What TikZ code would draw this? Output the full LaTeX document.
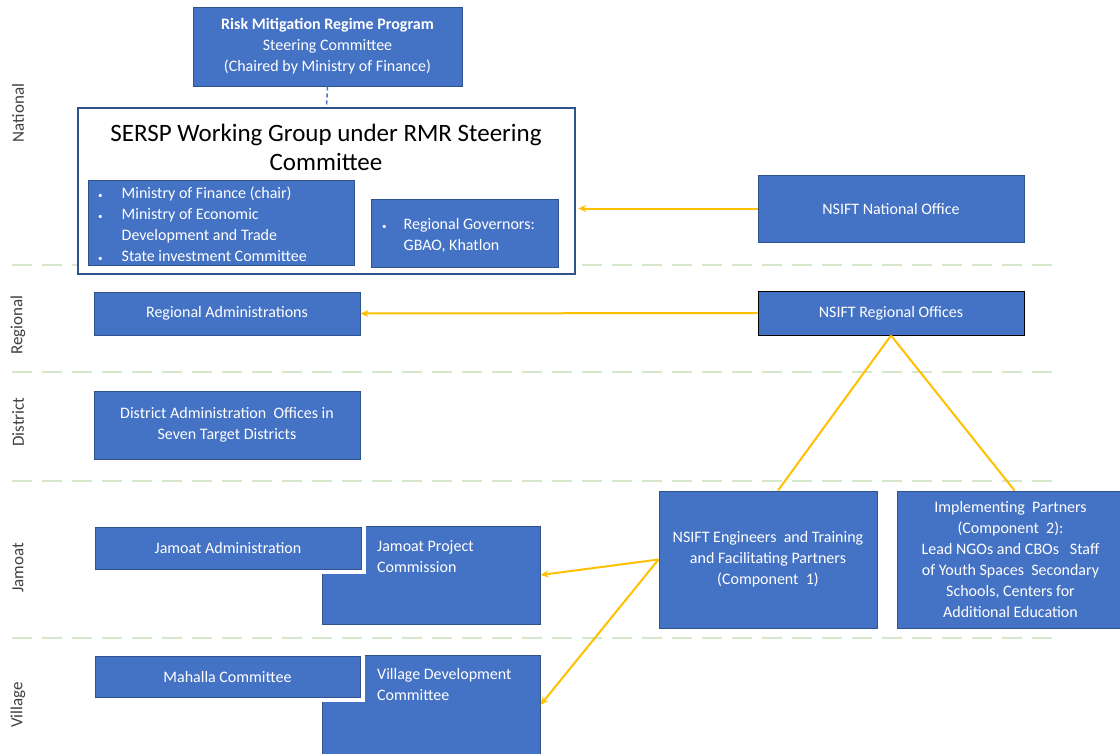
\documentclass[tikz,border=0pt]{standalone}
\usepackage{fontspec}
\setmainfont{Carlito}
\usetikzlibrary{arrows.meta}
\definecolor{boxblue}{HTML}{4472C4}
\definecolor{boxline}{HTML}{2F528F}
\definecolor{arrowgold}{HTML}{FFC000}
\definecolor{tiergreen}{HTML}{D5E8CC}
\definecolor{tiergray}{HTML}{404040}
\tikzset{
  bluebox/.style={fill=boxblue, draw=boxline, line width=1pt, text=white, inner sep=0pt, align=center, font=\fontsize{16}{21}\selectfont},
  halo/.style={preaction={draw=white, line width=9pt}},
  feed/.style={arrowgold, line width=2pt, -{Stealth[length=8pt,width=7pt]}},
  link/.style={arrowgold, line width=2pt},
  tierline/.style={tiergreen, line width=1.5pt, dash pattern=on 20pt off 10pt},
  tierlabel/.style={rotate=90, text=tiergray, font=\fontsize{17}{19}\selectfont},
  boxtext/.style={text=white, inner sep=0pt, align=left, anchor=north west, font=\fontsize{16}{21}\selectfont},
  listtext/.style={text=white, inner sep=0pt, align=left, font=\fontsize{16}{21}\selectfont},
}
\newcommand{\blt}{{\fontsize{9}{9}\selectfont\textbullet}}
\begin{document}
\begin{tikzpicture}[x=1pt, y=-1pt]
    \useasboundingbox (0,0) rectangle (1120,753);

    % tier separators
    \foreach \ty in {265,372,481,638}
        \draw[tierline] (12,\ty) -- (1058,\ty);

    \node[tierlabel] (lnat) at (18,113) {National};
    \node[tierlabel] (lreg) at (18,325) {Regional};
    \node[tierlabel] (ldis) at (18,422) {District};
    \node[tierlabel] (ljam) at (18,568) {Jamoat};
    \node[tierlabel] (lvil) at (18,705) {Village};

    % national level
    \node[bluebox, minimum width=269, minimum height=79] (rmr) at (327.5,46.5)
        {\textbf{Risk Mitigation Regime Program}\\Steering Committee\\(Chaired by Ministry of Finance)};
    \node[draw=boxline, line width=2.5pt, fill=white, minimum width=497, minimum height=166, inner sep=0pt] (sersp) at (326.5,191) {};
    \node[font=\fontsize{25}{29}\selectfont, align=center, inner sep=0pt] (serspttl) at (326,147.5)
        {SERSP Working Group under RMR Steering\\Committee};
    \node[bluebox, minimum width=266, minimum height=85] (minbox) at (221,222.5) {};
    \node[listtext, anchor=west] (mintext) at (97,225.5)
        {\begin{tabular}{@{\hspace{1pt}}l@{\hspace{19pt}}l@{}}
          \blt & Ministry of Finance (chair)\\
          \blt & Ministry of Economic\\
               & Development and Trade\\
          \blt & State investment Committee
         \end{tabular}};
    \node[bluebox, minimum width=187, minimum height=68] (govbox) at (464.5,233) {};
    \node[listtext, anchor=west] (govtext) at (380,235.5)
        {\begin{tabular}{@{\hspace{2pt}}l@{\hspace{17pt}}l@{}}
          \blt & Regional Governors:\\
               & GBAO, Khatlon
         \end{tabular}};
    \node[bluebox, minimum width=266, minimum height=67] (natoffice) at (891,208.5) {NSIFT National Office};

    % regional and district levels
    \node[bluebox, minimum width=266, minimum height=43] (radmin) at (227,313.5) {Regional Administrations};
    \node[bluebox, draw=black, minimum width=266, minimum height=44] (nro) at (891,313) {NSIFT Regional Offices};
    \node[bluebox, minimum width=266, minimum height=68] (dadmin) at (227,425)
        {District Administration \ Offices in\\Seven Target Districts};

    % jamoat level
    \node[bluebox, minimum width=218, minimum height=98] (jpc) at (431,575) {};
    \node[bluebox, halo, minimum width=266, minimum height=42] (jadmin) at (228,548) {Jamoat Administration};
    \node[boxtext] (jpctext) at (377,540) {Jamoat Project\\Commission};
    \node[bluebox, minimum width=218, minimum height=137] (eng) at (768,559.5)
        {NSIFT Engineers \ and Training\\and Facilitating Partners\\(Component \ 1)};
    \node[bluebox, minimum width=227, minimum height=137] (imp) at (1010.5,559.5)
        {Implementing \ Partners\\(Component \ 2):\\Lead NGOs and CBOs \ \ Staff\\of Youth Spaces \ Secondary\\Schools, Centers for\\Additional Education};

    % village level
    \node[bluebox, minimum width=218, minimum height=100] (vdc) at (431,705) {};
    \node[bluebox, halo, minimum width=265, minimum height=41] (mahalla) at (227.5,676.5) {Mahalla Committee};
    \node[boxtext] (vdctext) at (377,668) {Village Development\\Committee};

    % connectors
    \draw[boxblue, line width=1.5pt, dash pattern=on 4pt off 3pt] (rmr.south) -- (sersp.north);
    \draw[feed] (natoffice.west) -- ([xshift=2pt]natoffice.west -| sersp.east);
    \draw[feed] (nro.west) -- (radmin.east);
    \draw[link] (nro.south) -- ([xshift=10pt]eng.north);
    \draw[link] (nro.south) -- ([xshift=4pt]imp.north);
    \draw[feed] (eng.west) -- (jpc.east);
    \draw[feed] (eng.west) -- (vdc.east);
\end{tikzpicture}
\end{document}
